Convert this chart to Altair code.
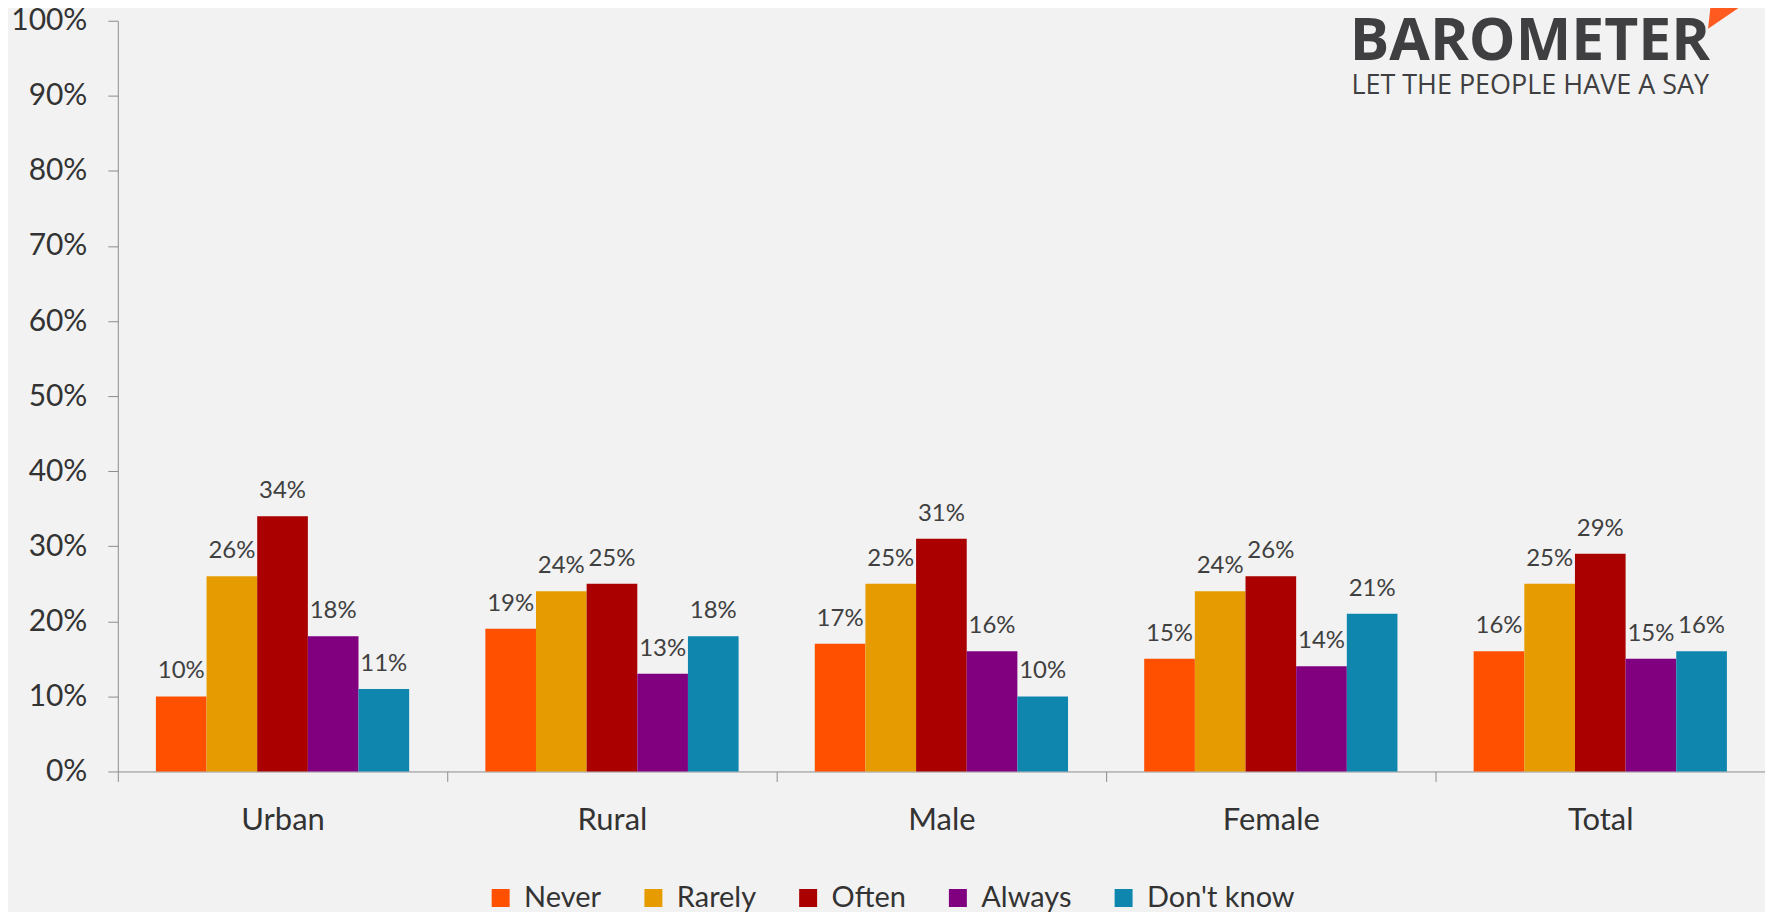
import altair as alt
import pandas as pd

groups = ["Urban", "Rural", "Male", "Female", "Total"]
series = ["Never", "Rarely", "Often", "Always", "Don't know"]
never = [10, 19, 17, 15, 16]
rarely = [26, 24, 25, 24, 25]
often = [34, 25, 31, 26, 29]
always = [18, 13, 16, 14, 15]
dont_know = [11, 18, 10, 21, 16]
colors = ["#FF5000", "#E69C00", "#AA0000", "#800080", "#0F86AD"]
y_ticks = [0, 0.1, 0.2, 0.3, 0.4, 0.5, 0.6, 0.7, 0.8, 0.9, 1.0]

rows = []
for s, vals in zip(series, [never, rarely, often, always, dont_know]):
    for g, v in zip(groups, vals):
        rows.append({"group": g, "series": s, "value": v / 100, "label": f"{v}%"})
df = pd.DataFrame(rows)

FONT = "Lato"
AXIS_COLOR = "#8c8c8c"

x_enc = alt.X(
    "group:N", sort=groups,
    scale=alt.Scale(paddingInner=0, paddingOuter=0),
    axis=alt.Axis(title=None, labelAngle=0, tickBand="extent", labelFontSize=31,
                  labelColor="#333333", labelPadding=24, tickSize=10,
                  tickColor=AXIS_COLOR, domainColor=AXIS_COLOR, labelFont=FONT),
)
y_enc = alt.Y(
    "value:Q", scale=alt.Scale(domain=[0, 1]),
    axis=alt.Axis(title=None, values=y_ticks, format=".0%", grid=False, tickSize=10,
                  labelPadding=21, labelFontSize=30, labelColor="#333333",
                  tickColor=AXIS_COLOR, domainColor=AXIS_COLOR, labelFont=FONT),
)
xo = alt.XOffset("series:N", sort=series,
                 scale=alt.Scale(paddingInner=0, paddingOuter=0.752))

base = alt.Chart(df)
bars = base.mark_bar().encode(
    x=x_enc, y=y_enc, xOffset=xo,
    color=alt.Color("series:N", sort=series,
                    scale=alt.Scale(domain=series, range=colors),
                    legend=alt.Legend(title=None, orient="none", direction="horizontal",
                                      legendX=369, legendY=864, padding=0,
                                      labelFontSize=29, labelFont=FONT, labelColor="#333333",
                                      symbolType="square", symbolSize=324, symbolStrokeWidth=0,
                                      symbolOpacity=1, labelOffset=9, columnPadding=37)),
)
labels = base.mark_text(baseline="alphabetic", dy=-18, fontSize=24, font=FONT,
                        color="#404040").encode(
    x=x_enc, y=y_enc, xOffset=xo, text="label:N",
)

logo_df = pd.DataFrame({"t": ["BAROMETER"]})
tag_df = pd.DataFrame({"t": ["LET THE PEOPLE HAVE A SAY"]})
tri_df = pd.DataFrame({"t": ["mark"]})
logo = alt.Chart(logo_df).mark_text(align="right", baseline="alphabetic", fontSize=59,
                                    fontWeight="bold", font="Open Sans",
                                    color="#3f3f41").encode(
    x=alt.value(1595), y=alt.value(39), text="t:N")
tag = alt.Chart(tag_df).mark_text(align="right", baseline="alphabetic", fontSize=27,
                                  font="Open Sans", color="#3f3f41").encode(
    x=alt.value(1594), y=alt.value(73), text="t:N")
tri = alt.Chart(tri_df).mark_point(
    shape="M -0.976 0.667 L -0.833 -0.667 L 0.976 -0.667 Z", filled=True,
    color="#FF5A1F", opacity=1, size=1764).encode(
    x=alt.value(1613.5), y=alt.value(-6))

chart = alt.layer(bars, labels, logo, tag, tri).properties(
    width=1650, height=752,
    autosize=alt.AutoSizeParams(type="none"),
    padding={"left": 110, "top": 12, "right": 0, "bottom": 140},
    background="#F2F2F2",
).configure_view(stroke=None)

chart.save("out.html", embed_options={"renderer": "svg", "actions": False})
